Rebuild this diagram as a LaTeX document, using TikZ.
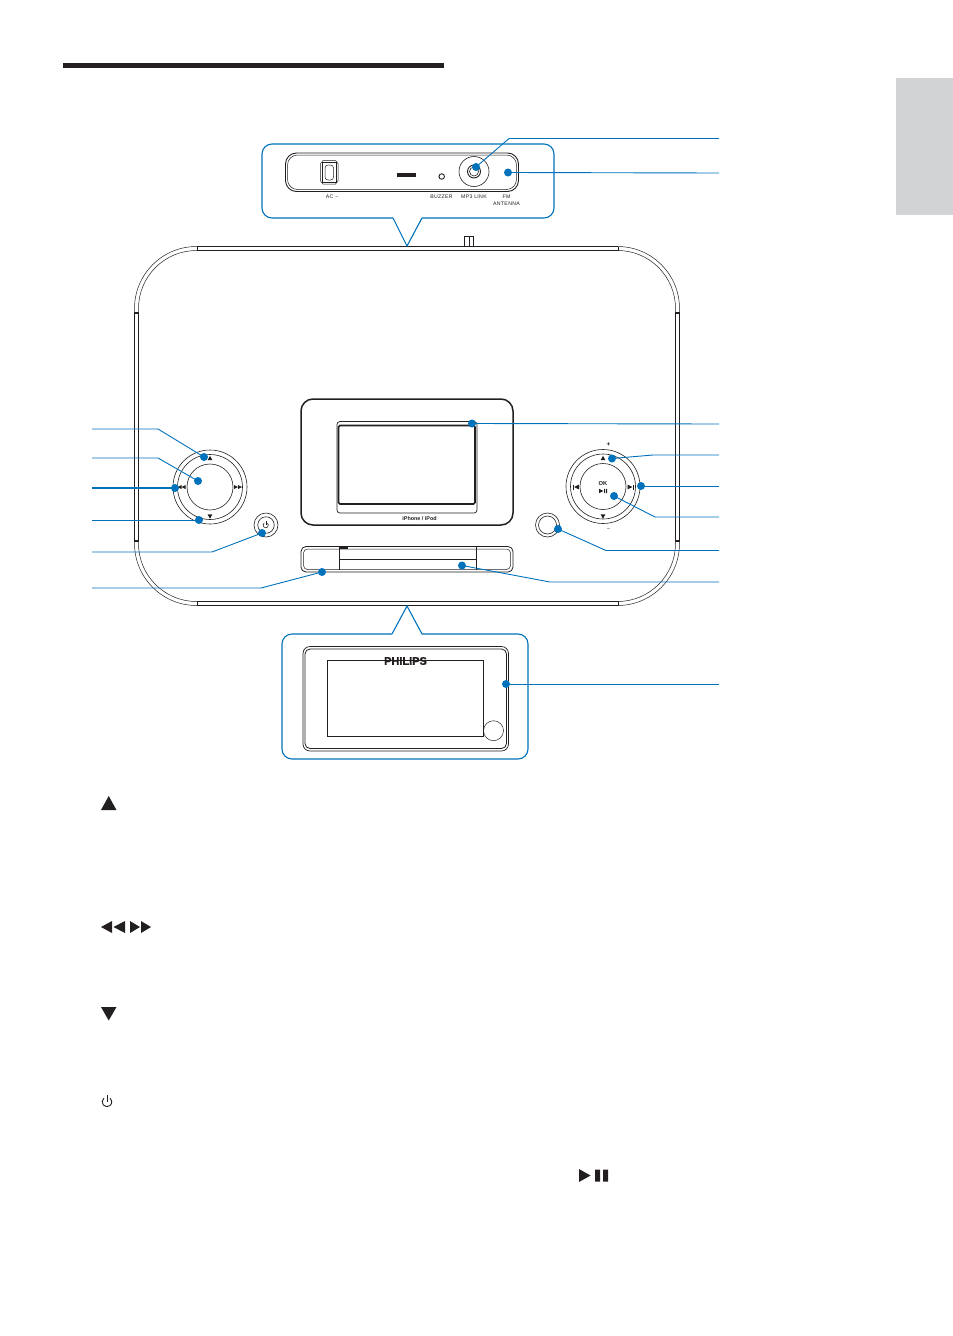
\documentclass[tikz,border=0pt]{standalone}
\usepackage{fontspec}
\setmainfont{Liberation Sans}
\definecolor{ink}{HTML}{231F20}
\definecolor{lead}{HTML}{0072BC}
\definecolor{tabgrey}{HTML}{D1D3D4}
\tikzset{
  hair/.style={draw=ink,line width=0.5pt},
  thin line/.style={draw=ink,line width=0.8pt},
  heavy/.style={draw=ink,line width=1.5pt},
  callout/.style={draw=lead,line width=1.1pt},
  leader/.style={draw=lead,line width=0.9pt},
  dot/.style={circle,fill=lead,draw=none,minimum size=8pt,inner sep=0pt},
  ring/.style={circle,draw=ink,line width=0.6pt,inner sep=0pt,minimum size=#1},
  tiny/.style={font=\fontsize{5.2}{6}\selectfont\addfontfeature{LetterSpace=6},text=ink,inner sep=0pt,align=center},
}
\newcommand{\uptri}[3]{\fill[ink] (#1-#3,#2+#3*0.9) -- (#1+#3,#2+#3*0.9) -- (#1,#2-#3*0.9) -- cycle;}
\newcommand{\dntri}[3]{\fill[ink] (#1-#3,#2-#3*0.9) -- (#1+#3,#2-#3*0.9) -- (#1,#2+#3*0.9) -- cycle;}
\newcommand{\lftri}[3]{\fill[ink] (#1+#3,#2-#3) -- (#1+#3,#2+#3) -- (#1-#3,#2) -- cycle;}
\newcommand{\rttri}[3]{\fill[ink] (#1-#3,#2-#3) -- (#1-#3,#2+#3) -- (#1+#3,#2) -- cycle;}
\begin{document}
\begin{tikzpicture}[x=1pt,y=-1pt]
\useasboundingbox (0,0) rectangle (953,1336);
% header and tab
\fill[ink] (63,63) rectangle (444,68);
\fill[tabgrey] (896,78) rectangle (953,215);

% body
\draw[hair] (197,246.5) -- (618,246.5);
\draw[hair,rounded corners=62pt] (134.5,246.5) rectangle (679.5,605.5);
\draw[hair,rounded corners=58pt] (138.5,250.5) rectangle (675.5,601.5);
\draw[thin line,line width=1.1pt] (197,246.7) -- (618,246.7) (197,250.6) -- (618,250.6);
\draw[thin line,line width=1.1pt] (197,601.3) -- (618,601.3) (197,605.5) -- (618,605.5);
\draw[thin line,line width=1.1pt] (134.5,313) -- (134.5,541) -- (138.5,541) -- (138.5,313) -- cycle;
\draw[thin line,line width=1.1pt] (675.5,313) -- (675.5,541) -- (679.5,541) -- (679.5,313) -- cycle;
\draw[hair] (197,601.3) -- (197,605.5) (618,601.3) -- (618,605.5) (197,246.7) -- (197,250.6) (618,246.7) -- (618,250.6);
\draw[thin line] (464.5,246) -- (464.5,236.5) -- (473.5,236.5) -- (473.5,246) (469,236.5) -- (469,246);

% dock
\draw[heavy,rounded corners=12pt] (301,399) rectangle (513,525);
\draw[hair,line width=0.7pt,rounded corners=3pt] (337,421.5) rectangle (477,513);
\draw[heavy,line width=1.7pt,rounded corners=1.5pt] (338.5,425.5) rectangle (475,504);
\node[tiny,font=\fontsize{5.4}{6}\selectfont\bfseries] (dockname) at (419.5,519) {iPhone / iPod};

% slot
\draw[thin line,rounded corners=5pt] (301,546.5) rectangle (513,572);
\draw[hair,rounded corners=4pt] (303.5,549) rectangle (510.5,569.5);
\draw[thin line] (339,547) -- (339,570) (340,559) -- (476,559) (476,547) -- (476,570);
\draw[heavy] (339,548) -- (348,548);

% left dial
\node[ring=74pt] (ldiala) at (210,487) {};
\node[ring=65pt] (ldialb) at (210,487) {};
\node[ring=46pt] (ldialc) at (210,487) {};
\uptri{210}{458}{2.4}
\dntri{210}{516.5}{2.4}
\lftri{179.5}{487}{2} \lftri{183.5}{487}{2}
\rttri{236}{487}{2} \rttri{240}{487}{2}
% left power button
\node[ring=24pt] (pwra) at (266,525) {};
\node[ring=16.5pt] (pwrb) at (266,525) {};
\draw[ink,line width=0.6pt] (264.1,523.2) arc[start angle=130,end angle=410,radius=2.6pt];
\draw[ink,line width=0.6pt] (266,521) -- (266,525);

% right dial
\node[ring=74pt] (rdiala) at (603,486.5) {};
\node[ring=65pt] (rdialb) at (603,486.5) {};
\node[ring=46pt] (rdialc) at (603,486.5) {};
\uptri{603}{458}{2.4}
\dntri{603}{516.5}{2.4}
\fill[ink] (573,484.5) rectangle (574,489.5);
\lftri{576.5}{487}{2.4}
\rttri{630}{487}{2.4}
\fill[ink] (632.5,484.5) rectangle (633.5,489.5);
\node[tiny,font=\fontsize{5.8}{6}\selectfont\bfseries] (oklabel) at (603,483.5) {OK};
\rttri{601.2}{491}{2.2}
\fill[ink] (604,488.8) rectangle (605,493.2) (606,488.8) rectangle (607,493.2);
\node[tiny,font=\fontsize{6.5}{7}\selectfont\bfseries] (plus) at (608.5,445) {+};
\node[tiny] (minus) at (608.5,530) {–};
\node[ring=24pt] (rbtna) at (547.5,525) {};
\node[ring=18pt] (rbtnb) at (547.5,525) {};

% top callout
\draw[callout,rounded corners=10pt] (422,218) -- (554,218) -- (554,144) -- (262,144) -- (262,218) -- (393,218);
\draw[callout] (393,218) -- (407,246) -- (422,218);
% back panel
\draw[thin line,line width=0.9pt,rounded corners=11pt] (285.5,153) rectangle (518.5,191.5);
\draw[hair,rounded corners=10pt] (287.5,155) rectangle (516.5,189.5);
\draw[hair] (323,160.5) -- (335.5,160.5) -- (338,163.5) -- (338,181) -- (335.5,184) -- (323,184) -- (320.5,181) -- (320.5,163.5) -- cycle;
\draw[thin line,line width=1pt] (322.5,162.5) rectangle (336,182);
\draw[hair,rounded corners=3pt] (325,165) rectangle (333.5,180);
\fill[ink] (397,173) rectangle (416,176.5);
\node[circle,draw=ink,line width=0.9pt,inner sep=0pt,minimum size=5.5pt] (buzzer) at (441.7,176.5) {};
\node[ring=30pt] (mp3a) at (474,171.5) {};
\node[circle,draw=ink,line width=0.9pt,inner sep=0pt,minimum size=13pt] (mp3b) at (474,171.5) {};
\node[ring=9pt] (mp3c) at (474,171.5) {};
\node[tiny] (aclabel) at (332,197) {AC \textasciitilde};
\node[tiny] (buzzlabel) at (441.5,197) {BUZZER};
\node[tiny] (mp3label) at (474,197) {MP3 LINK};
\node[tiny] (fmlabel) at (506.5,200.5) {FM\\[0.6pt]ANTENNA};

% bottom callout
\draw[callout,rounded corners=10pt] (392,634) -- (282,634) -- (282,759) -- (528,759) -- (528,634) -- (422,634);
\draw[callout] (392,634) -- (407,606) -- (422,634);
% front unit
\draw[hair,line width=0.7pt,rounded corners=7pt] (303,646.5) rectangle (508.5,751);
\draw[thin line,rounded corners=5pt] (305,649) rectangle (506.5,748.5);
\draw[thin line] (327.5,660.5) rectangle (483.5,736.5);
\node[circle,draw=ink,line width=0.5pt,inner sep=0pt,minimum size=20pt] (frontbtn) at (493.5,730.7) {};
\node[font=\fontsize{11}{12}\selectfont\bfseries\addfontfeature{FakeBold=1.5},text=ink,inner sep=0pt] (philips) at (405.5,661) {PHILIPS};

% dots
\node[dot] (d1) at (476,167) {};
\node[dot] (d2) at (508,172.5) {};
\node[dot] (d3) at (472,423.5) {};
\node[dot] (d4) at (612,458.5) {};
\node[dot] (d5) at (641,486) {};
\node[dot] (d6) at (614,496) {};
\node[dot] (d7) at (558,529) {};
\node[dot] (d8) at (462,565.5) {};
\node[dot] (d9) at (506,684) {};
\node[dot] (l1) at (204,457) {};
\node[dot] (l2) at (198,481) {};
\node[dot] (l3) at (175,488) {};
\node[dot] (l4) at (199,520) {};
\node[dot] (l5) at (262,533) {};
\node[dot] (l6) at (322,572) {};

% leader ends
\coordinate (e1) at (719,138.5); \coordinate (k1) at (509,138.5);
\coordinate (e2) at (719,173);
\coordinate (e3) at (719,424);
\coordinate (e4) at (719,455); \coordinate (k4) at (653,455);
\coordinate (e5) at (719,486);
\coordinate (e6) at (719,517); \coordinate (k6) at (655,517);
\coordinate (e7) at (719,550.5); \coordinate (k7) at (606,550.5);
\coordinate (e8) at (719,582); \coordinate (k8) at (550,582);
\coordinate (e9) at (719,684);
\coordinate (f1) at (92,429); \coordinate (m1) at (158,429);
\coordinate (f2) at (92,458); \coordinate (m2) at (158,458);
\coordinate (f3) at (92,488);
\coordinate (f4) at (92,520);
\coordinate (f5) at (92,552); \coordinate (m5) at (212,552);
\coordinate (f6) at (92,588); \coordinate (m6) at (261,588);

\draw[leader] (d1.center) -- (k1) -- (e1);
\draw[leader] (d2.center) -- (e2);
\draw[leader] (d3.center) -- (e3);
\draw[leader] (d4.center) -- (k4) -- (e4);
\draw[leader] (d5.center) -- (e5);
\draw[leader] (d6.center) -- (k6) -- (e6);
\draw[leader] (d7.center) -- (k7) -- (e7);
\draw[leader] (d8.center) -- (k8) -- (e8);
\draw[leader] (d9.center) -- (e9);
\draw[leader] (l1.center) -- (m1) -- (f1);
\draw[leader] (l2.center) -- (m2) -- (f2);
\draw[leader,line width=1.3pt] (l3.center) -- (f3);
\draw[leader] (l4.center) -- (f4);
\draw[leader] (l5.center) -- (m5) -- (f5);
\draw[leader] (l6.center) -- (m6) -- (f6);

% legend glyphs
\fill[ink] (101,810) -- (116.5,810) -- (108.7,796) -- cycle;
\fill[ink] (112,921) -- (112,933) -- (101,927) -- cycle;
\fill[ink] (125,921) -- (125,933) -- (113.5,927) -- cycle;
\fill[ink] (130,921) -- (130,933) -- (140,927) -- cycle;
\fill[ink] (141,921) -- (141,933) -- (151,927) -- cycle;
\fill[ink] (101,1007) -- (116.5,1007) -- (108.7,1020.5) -- cycle;
\draw[ink,line width=0.9pt] (103.9,1098.2) arc[start angle=130,end angle=410,radius=4.8pt];
\draw[ink,line width=0.9pt] (107,1095) -- (107,1102);
\fill[ink] (579,1169) -- (579,1182) -- (590.5,1175.5) -- cycle;
\fill[ink] (595,1169.5) rectangle (600,1181.5) (603,1169.5) rectangle (608,1181.5);
\end{tikzpicture}
\end{document}
